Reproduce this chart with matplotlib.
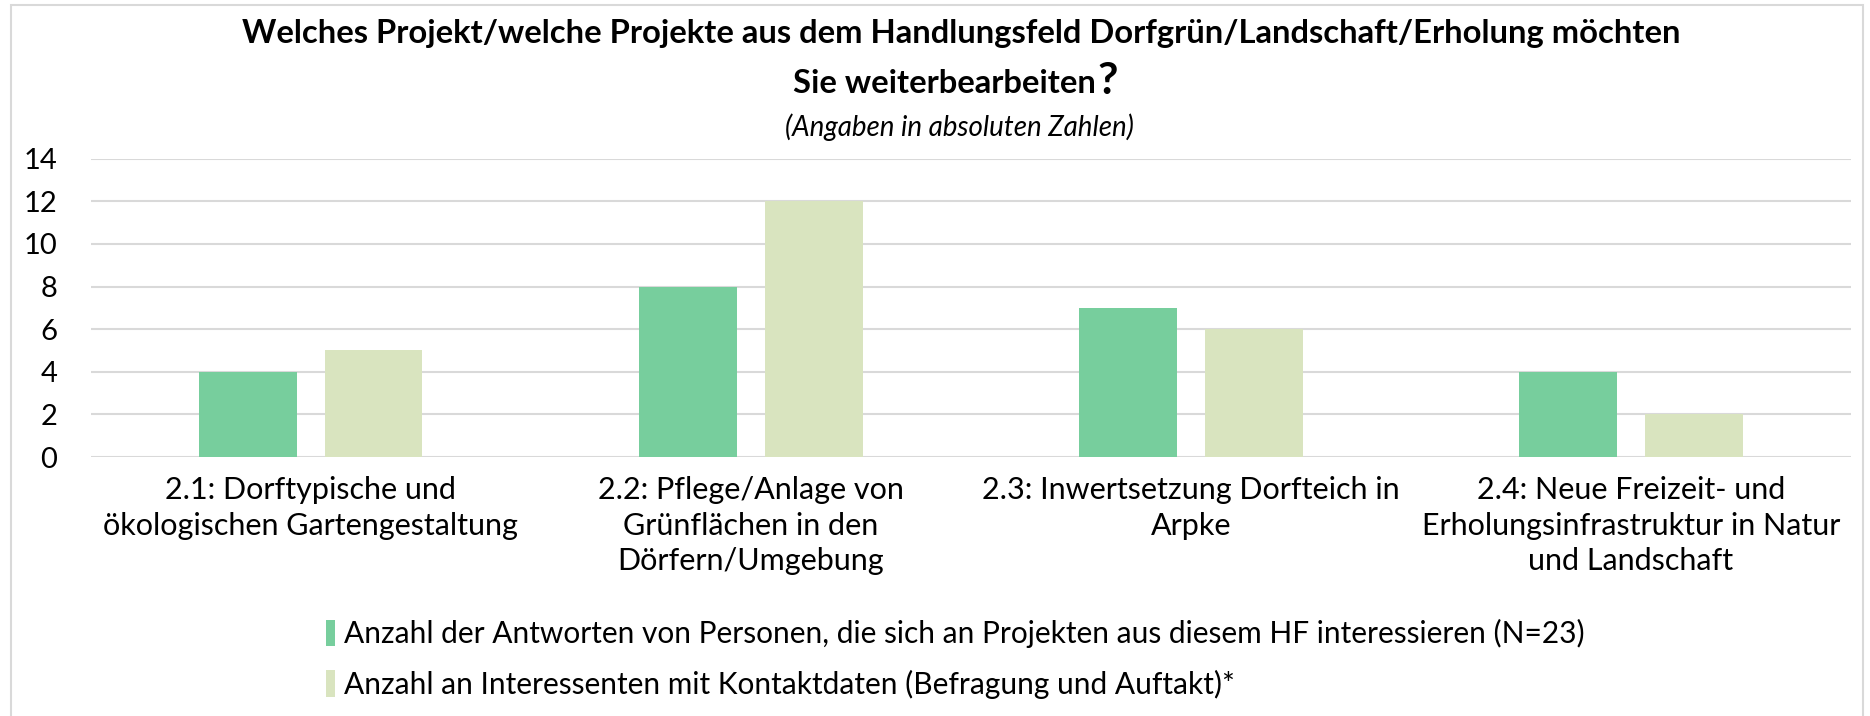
import numpy as np
import matplotlib.pyplot as plt
from matplotlib.patches import Rectangle

plt.rcParams['font.family'] = ['Lato', 'DejaVu Sans']

categories = [
    "2.1: Dorftypische und\nökologischen Gartengestaltung",
    "2.2: Pflege/Anlage von\nGrünflächen in den\nDörfern/Umgebung",
    "2.3: Inwertsetzung Dorfteich in\nArpke",
    "2.4: Neue Freizeit- und\nErholungsinfrastruktur in Natur\nund Landschaft",
]
antworten = [4, 8, 7, 4]
interessenten = [5, 12, 6, 2]
series_names = [
    "Anzahl der Antworten von Personen, die sich an Projekten aus diesem HF interessieren (N=23)",
    "Anzahl an Interessenten mit Kontaktdaten (Befragung und Auftakt)*",
]
colors = ["#77CE9D", "#D9E4BF"]

fig = plt.figure(figsize=(18.7, 7.16), dpi=100)
ax = fig.add_axes([0.0485, 0.3617, 0.9413, 0.4166])

x = np.arange(len(categories))
w = 0.222
ax.bar(x - 0.143, antworten, w, color=colors[0], label=series_names[0], zorder=3)
ax.bar(x + 0.143, interessenten, w, color=colors[1], label=series_names[1], zorder=3)

ax.set_xlim(-0.5, len(categories) - 0.5)
ax.set_ylim(0, 14)
ax.set_yticks(range(0, 15, 2))
ax.set_xticks(x)
ax.set_xticklabels(categories, fontsize=22, linespacing=1.32)
ax.tick_params(axis='y', labelsize=21, length=0, pad=24)
ax.tick_params(axis='x', length=0, pad=14)
ax.grid(axis='y', color="#D9D9D9", linewidth=1.5, zorder=0)
for s in ax.spines.values():
    s.set_visible(False)

fig.text(0.514, 0.953, "Welches Projekt/welche Projekte aus dem Handlungsfeld Dorfgrün/Landschaft/Erholung möchten",
         ha='center', va='center', fontsize=23.6, fontweight='bold')
t2 = fig.text(0.505, 0.883, "Sie weiterbearbeiten", ha='center', va='center', fontsize=23.6, fontweight='bold')
fig.canvas.draw()
bb = t2.get_window_extent().transformed(fig.transFigure.inverted())
fig.text(bb.x1 + 0.001, bb.y0 - 0.004, "?", ha='left', va='bottom', fontsize=32, fontweight='bold')
fig.text(0.513, 0.823, "(Angaben in absoluten Zahlen)", ha='center', va='center', fontsize=20, style='italic')

fig.legend(loc='upper left', bbox_to_anchor=(0.168, 0.152), ncol=1, frameon=False,
           fontsize=21.5, handlelength=0.3, handleheight=1.0, handletextpad=0.3,
           labelspacing=0.72, borderaxespad=0)

fig.patches.append(Rectangle((0.006, -0.01), 0.99, 1.003, transform=fig.transFigure,
                             fill=False, edgecolor="#D9D9D9", linewidth=1.5))

fig.savefig("out.png", dpi=100)
